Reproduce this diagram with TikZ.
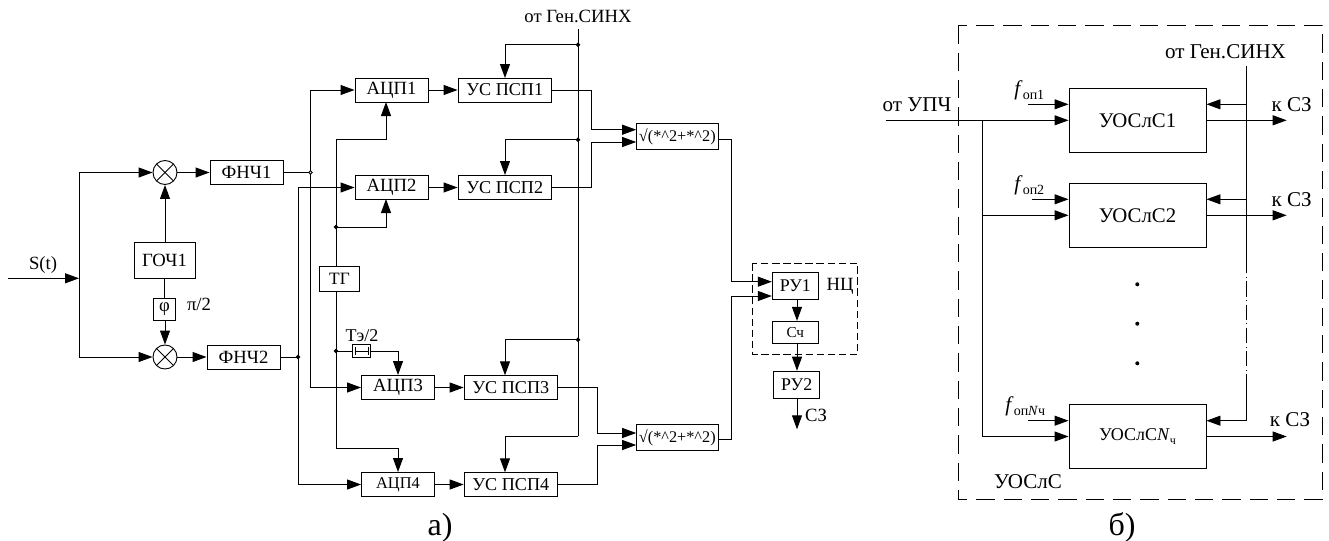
\documentclass[tikz,border=0pt]{standalone}
\usepackage{fontspec}
\setmainfont{Liberation Serif}
\usetikzlibrary{arrows.meta}
\newcommand{\sz}[1]{\fontsize{#1}{#1}\selectfont}
\newcommand{\low}[2]{\raisebox{-.45ex}{\sz{#1}#2}}

\begin{document}
\begin{tikzpicture}[
  x=.75pt, y=-.75pt, font=\sz{14}, line width=.7pt,
  every node/.style={inner sep=0pt},
  blk/.style={draw, minimum width=54.75pt, minimum height=18pt},
  usbox/.style={draw, minimum width=70pt, minimum height=18pt, font=\sz{13.6}},
  rootbox/.style={draw, minimum width=61pt, minimum height=19.5pt, font=\sz{12.2}},
  rubox/.style={draw, minimum width=34.5pt, minimum height=20.25pt, font=\sz{13.4}},
  bigbox/.style={draw, minimum width=102.75pt, minimum height=47.5pt, font=\sz{15.6}},
  mixer/.style={circle, draw, minimum size=18pt, path picture={
    \draw (path picture bounding box.north west) -- (path picture bounding box.south east);
    \draw (path picture bounding box.north east) -- (path picture bounding box.south west);}},
  dot/.style={circle, draw, fill=black, minimum size=2.6pt},
  sig/.style={-{Triangle[length=10.5pt,width=7.5pt]}},
  frame/.style={dash pattern=on 13.7pt off 6.8pt, line width=.7pt},
  smallframe/.style={dash pattern=on 5.5pt off 2.8pt, line width=.7pt}
]
\useasboundingbox (0,0) rectangle (1329,540);

% a) input and mixers
\node (st) at (43,265) {S(t)};
\coordinate (in) at (8,278.3);
\coordinate (split) at (79,278.3);
\node[mixer] (mix1) at (165,172.5) {};
\node[mixer] (mix2) at (165,357) {};
\node[draw, minimum width=45.75pt, minimum height=27pt] (goch) at (164.5,260) {ГОЧ1};
\node[draw, minimum size=16.5pt] (phi) at (164.5,309) {φ};
\node (halfpi) at (199,304) {π/2};
\node[blk] (fnch1) at (246.5,172.5) {ФНЧ1};
\node[blk] (fnch2) at (243.5,357) {ФНЧ2};
\draw[sig] (in) -- (split);
\draw[sig] (split) |- (mix1.west);
\draw[sig] (split) |- (mix2.west);
\draw[sig] (goch.north -| mix1) -- (mix1.south);
\draw (goch.south -| phi) -- (phi.north);
\draw[sig] (phi.south -| mix2) -- (mix2.north);
\draw[sig] (mix1.east) -- (fnch1.west);
\draw[sig] (mix2.east) -- (fnch2.west);

% a) converters
\node[blk] (adc1) at (391.5,90) {АЦП1};
\node[blk] (adc2) at (391.5,187.5) {АЦП2};
\node[blk] (adc3) at (398,387.5) {АЦП3};
\node[blk, font=\sz{12.3}] (adc4) at (398,484.5) {АЦП4};
\node[draw, minimum width=30pt, minimum height=18.75pt, font=\sz{13}] (tg) at (339.5,279) {ТГ};
\node[draw, minimum width=13.8pt, minimum height=9.2pt] (dly) at (361.5,351) {};
\node (dlylbl) at (362,336) {\sz{13.5}Тэ/2};
\draw[{Bar[width=6pt]}-{Bar[width=6pt]}, line width=.5pt] ([xshift=2pt]dly.west) -- ([xshift=-2pt]dly.east);

\coordinate (j1) at (310.5,172.5);
\coordinate (j2) at (298,357);
\coordinate (j3) at (336,227);
\coordinate (j4) at (336,351);
\draw (fnch1.east) -- (j1);
\draw (fnch2.east) -- (j2);
\draw[sig] (j1) |- (adc1.west);
\draw[sig] (j1) |- (adc3.west);
\draw[sig] (j2) |- (adc2.west);
\draw[sig] (j2) |- (adc4.west);
\draw[sig] (tg.north -| j3) -- (336,139) -| (386,102);
\draw[sig] (j3) -| (386,199);
\draw[sig] (tg.south -| j3) -- (336,448.3) -| (adc4.north);
\draw (j4) -- (dly.west);
\draw[sig] (dly.east) -| (adc3.north);
\node[dot, fill=white] (d1) at (j1) {};
\node[dot] (d2) at (j2) {};
\node[dot] (d3) at (j3) {};
\node[dot] (d4) at (j4) {};

% a) despreaders and sync bus
\node[usbox] (us1) at (504.7,90) {УС ПСП1};
\node[usbox] (us2) at (504.7,187.5) {УС ПСП2};
\node[usbox] (us3) at (510.8,387.5) {УС ПСП3};
\node[usbox] (us4) at (510.8,484.5) {УС ПСП4};
\node (gen1) at (578,16) {от Ген.СИНХ};
\coordinate (bustop) at (578,29);
\coordinate (busend) at (578,436);
\coordinate (s1) at (578,44.7);
\coordinate (s2) at (578,139.7);
\coordinate (s3) at (578,339.7);
\foreach \i in {1,2,3,4} \draw[sig] (adc\i.east) -- (us\i.west);
\draw (bustop) -- (busend);
\draw[sig] (busend) -| (505,472.3);
\draw[sig] (s1) -| (505,78);
\draw[sig] (s2) -| (505,175);
\draw[sig] (s3) -| (505,375.3);
\node[dot] (d5) at (s1) {};
\node[dot] (d6) at (s2) {};
\node[dot] (d7) at (s3) {};

% a) envelope and decision
\node[rootbox] (rt1) at (677.3,136.5) {√(*\^{}2+*\^{}2)};
\node[rootbox] (rt2) at (677.3,437.3) {√(*\^{}2+*\^{}2)};
\node[rubox] (ru1) at (795.3,285.8) {РУ1};
\node[rubox, minimum height=16.3pt, font=\sz{11.4}] (cnt) at (795.3,332.2) {Сч};
\node[rubox] (ru2) at (796.7,384.7) {РУ2};
\node (nc) at (840,286) {НЦ};
\node (sz1) at (816,415) {СЗ};
\coordinate (szend) at (797,429.3);
\draw[sig] (us1.east) -- (591.7,90) |- (rt1.west |- 0,129.7);
\draw[sig] (us2.east) -- (591.7,187.5) |- (rt1.west |- 0,142);
\draw[sig] (us3.east) -- (597.3,387.5) |- (rt2.west |- 0,433);
\draw[sig] (us4.east) -- (597.3,484.5) |- (rt2.west |- 0,445);
\draw[sig] (rt1.east |- 0,139) -- (731.7,139) |- (ru1.west |- 0,281.7);
\draw[sig] (rt2.east |- 0,439.3) -- (731.7,439.3) |- (ru1.west |- 0,296);
\draw[sig] (ru1.south -| szend) -- (cnt.north -| szend);
\draw[sig] (cnt.south -| szend) -- (ru2.north -| szend);
\draw[sig] (ru2.south -| szend) -- (szend);
\draw[smallframe] (752.7,263.3) rectangle (857.7,354.3);
\node[anchor=base] (capa) at (440,535) {\sz{24}а)};

% b) channels
\draw[frame] (958.3,25.3) rectangle (1322.3,499.3);
\node[bigbox] (ch1) at (1137.5,120.3) {УОСлС1};
\node[bigbox] (ch2) at (1137.5,215.3) {УОСлС2};
\node[bigbox, font=\sz{13.5}] (ch3) at (1137.5,436.5) {УОСлС\textit{N}\low{9}{ч}};
\node (upch) at (917,105) {\sz{15.8}от УПЧ};
\node (gen2) at (1225.5,52) {\sz{15.8}от Ген.СИНХ};
\node (lblb) at (1028,481.7) {\sz{15.8}УОСлС};
\node[anchor=south west] (f1) at (1014,100) {\sz{15.8}\textit{f}\low{10.5}{оп1}};
\node[anchor=south west] (f2) at (1014,195) {\sz{15.8}\textit{f}\low{10.5}{оп2}};
\node[anchor=south west] (f3) at (1005,416) {\sz{15.8}\textit{f}\low{10.5}{оп\textit{N}ч}};
\node (kz1) at (1291.7,105) {\sz{15.8}к СЗ};
\node (kz2) at (1291.7,200) {\sz{15.8}к СЗ};
\node (kz3) at (1290,420) {\sz{15.8}к СЗ};
\coordinate (upin) at (885.7,120.3);
\coordinate (upj) at (982,120.3);
\coordinate (f1s) at (1028.3,104.3);
\coordinate (f2s) at (1031.7,199.3);
\coordinate (f3s) at (1028.3,420.7);
\coordinate (sync) at (1246.7,65.7);
\coordinate (sync1) at (1246.7,258);
\coordinate (sync2) at (1246.7,385);
\coordinate (sync3) at (1246.7,420.7);
\draw[sig] (upin) -- (ch1.west);
\draw[sig] (upj) |- (ch2.west);
\draw[sig] (upj) |- (ch3.west);
\draw[sig] (f1s) -- (f1s -| ch1.west);
\draw[sig] (f2s) -- (f2s -| ch2.west);
\draw[sig] (f3s) -- (f3s -| ch3.west);
\draw (sync) -- (sync1);
\draw[dash pattern=on 11.5pt off 2.6pt on .75pt off 2.6pt, line width=.6pt] (sync1) -- (sync2);
\draw (sync2) -- (sync3);
\draw[sig] (1246.7,104.3) -- (ch1.east |- 0,104.3);
\draw[sig] (1246.7,199.3) -- (ch2.east |- 0,199.3);
\draw[sig] (sync3) -- (ch3.east |- 0,420.7);
\foreach \i in {1,2,3} \draw[sig] (ch\i.east) -- (ch\i.east -| 1286.7,0);
\foreach \y in {284.3,323.7,363.3} \fill (1137.3,\y) circle (1.5pt);
\node[anchor=base] (capb) at (1122,535) {\sz{24}б)};
\end{tikzpicture}
\end{document}
